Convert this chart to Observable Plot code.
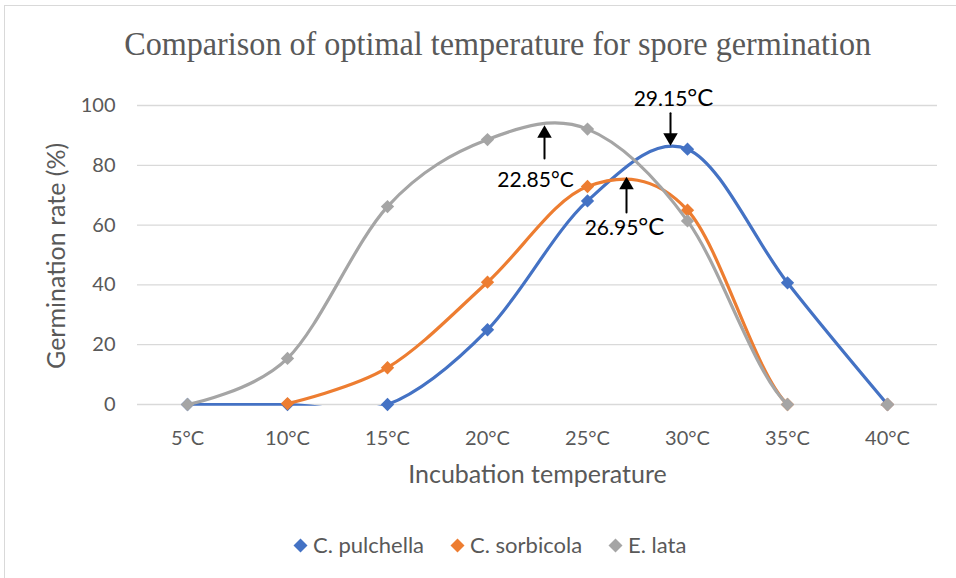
<!DOCTYPE html>
<html>
<head>
<meta charset="utf-8">
<script src="https://cdn.jsdelivr.net/npm/d3@7"></script>
<script src="https://cdn.jsdelivr.net/npm/@observablehq/plot@0.6"></script>
<style>
  html, body { margin: 0; padding: 0; background: #fff; }
  #wrap { position: relative; width: 956px; height: 578px; overflow: hidden; font-family: Lato, sans-serif; background: #fff; }
  #title { position: absolute; top: 27px; left: 0; white-space: nowrap; font-family: "Liberation Serif", "Times New Roman", serif; font-size: 34px; line-height: 34px; color: #595959; transform-origin: center center; }
  #chart { position: absolute; left: 0; top: 75px; }
  #legend { position: absolute; left: 293px; top: 531px; display: flex; align-items: center; font-size: 22px; color: #595959; line-height: 28px; white-space: nowrap; }
  #legend .item { display: flex; align-items: center; }
  #legend svg { margin-right: 5px; }
  #border { position: absolute; left: 4px; top: 5px; width: 970px; height: 600px; border-top: 1.5px solid #d9d9d9; border-left: 1.5px solid #d9d9d9; pointer-events: none; z-index: 5; }
</style>
</head>
<body>
<div id="wrap">
  <div id="title"></div>
  <div id="chart"></div>
  <div id="legend"></div>
  <div id="border"></div>
</div>
<script>
// ---- Data ----
const titleText = "Comparison of optimal temperature for spore germination";
const xTitle = "Incubation temperature";
const yTitle = "Germination rate (%)";
const temps = [5, 10, 15, 20, 25, 30, 35, 40];
const tickLabels = ["5°C", "10°C", "15°C", "20°C", "25°C", "30°C", "35°C", "40°C"];
const yTicks = [0, 20, 40, 60, 80, 100];
const seriesNames = ["C. pulchella", "C. sorbicola", "E. lata"];
const seriesColors = ["#4472C4", "#ED7D31", "#A5A5A5"];
const pulchella = [0, 0, 0, 25, 68.1, 85.4, 40.7, 0];
const sorbicola = [null, 0.3, 12.3, 40.9, 72.9, 65, 0, 0];
const lata = [0, 15.4, 66.2, 88.6, 92.1, 61.4, 0, 0];
// annotations (optimal temperatures)
const peakTemps = [22.85, 26.95, 29.15];
const peakLabels = ["22.85°C", "26.95°C", "29.15°C"];
const arrowTail = [82.3, 64.2, 97.4];
const arrowTip = [93.4, 76.2, 86.5];
const labelT = [22.4, 26.85, 29.3];
const labelY = [74.9, 59.0, 102.0];
const arrowDir = ["up", "up", "down"];

// ---- Build tables ----
const seriesValues = [pulchella, sorbicola, lata];
const rows = [];
seriesValues.forEach((vals, s) => {
  vals.forEach((v, i) => rows.push({series: seriesNames[s], t: temps[i], v}));
});
const annotations = peakTemps.map((t, i) => ({
  t, label: peakLabels[i], tail: arrowTail[i], tip: arrowTip[i], lt: labelT[i], ly: labelY[i], dir: arrowDir[i]
}));

// ---- Title ----
const titleEl = document.getElementById("title");
titleEl.textContent = titleText;
{
  const w = titleEl.getBoundingClientRect().width;
  titleEl.style.left = (498 - w / 2) + "px";
  titleEl.style.transform = `scaleX(${747 / w})`;
}

// ---- Chart ----
const marks = [
  Plot.gridY(yTicks, {stroke: "#d9d9d9", strokeOpacity: 1, strokeWidth: 1.3}),
  Plot.axisY(yTicks, {tickSize: 0, tickPadding: 22, color: "#595959", label: null}),
  Plot.axisX(temps, {tickSize: 0, tickPadding: 24, color: "#595959", label: null,
    tickFormat: d => tickLabels[temps.indexOf(d)]}),
  Plot.text([xTitle], {frameAnchor: "bottom", dy: 69, lineAnchor: "middle", fill: "#595959", fontSize: 25, text: d => d}),
  Plot.text([yTitle], {frameAnchor: "left", dx: -81, rotate: -90, textAnchor: "middle", lineAnchor: "middle", fill: "#595959", fontSize: 25, text: d => d})
];
seriesNames.forEach((name, s) => {
  const data = rows.filter(r => r.series === name);
  marks.push(Plot.line(data, {x: "t", y: "v", stroke: seriesColors[s], strokeWidth: 3.2,
    curve: "cardinal", clip: true}));
  marks.push(Plot.dot(data.filter(r => r.v != null), {x: "t", y: "v", symbol: "diamond2", r: 6,
    fill: seriesColors[s], stroke: null}));
});
marks.push(
  Plot.arrow(annotations, {x1: "t", y1: "tail", x2: "t", y2: "tip", headLength: 0, insetEnd: 7,
    stroke: "#000", strokeWidth: 2}),
  Plot.dot(annotations.filter(a => a.dir === "up"), {x: "t", y: "tip", symbol: "triangle", r: 5.4,
    fill: "#000", stroke: null, dy: 8.4}),
  Plot.dot(annotations.filter(a => a.dir === "down"), {x: "t", y: "tip", symbol: "triangle", r: 5.4,
    rotate: 180, fill: "#000", stroke: null, dy: -8.4}),
  Plot.text(annotations, {x: "lt", y: "ly", text: "label", fill: "#000", fontSize: 21, lineAnchor: "middle"})
);

const chart = Plot.plot({
  width: 956,
  height: 425,
  marginLeft: 137,
  marginRight: 19,
  marginTop: 30,
  marginBottom: 94.2,
  x: {domain: [2.5, 42.5]},
  y: {domain: [-0.6, 100]},
  style: {fontFamily: "Lato, sans-serif", fontSize: "20px", background: "transparent", overflow: "visible"},
  marks
});
document.getElementById("chart").appendChild(chart);

// enlarge the °C unit in two of the annotation labels
chart.querySelectorAll("text").forEach(el => {
  const m = /^(26\.95|29\.15)°C$/.exec(el.textContent);
  if (m) {
    el.textContent = m[1];
    const ts = document.createElementNS("http://www.w3.org/2000/svg", "tspan");
    ts.setAttribute("font-size", "24");
    ts.textContent = "°C";
    el.appendChild(ts);
  }
});

// ---- Legend ----
const legend = document.getElementById("legend");
const legendGaps = [26, 26, 0];
seriesNames.forEach((name, s) => {
  const item = document.createElement("div");
  item.className = "item";
  item.style.marginRight = legendGaps[s] + "px";
  item.innerHTML = `<svg width="15" height="15" viewBox="0 0 15 15"><path d="M7.5 0.5 L14.5 7.5 L7.5 14.5 L0.5 7.5 Z" fill="${seriesColors[s]}"/></svg><span>${name}</span>`;
  legend.appendChild(item);
});
</script>
</body>
</html>
